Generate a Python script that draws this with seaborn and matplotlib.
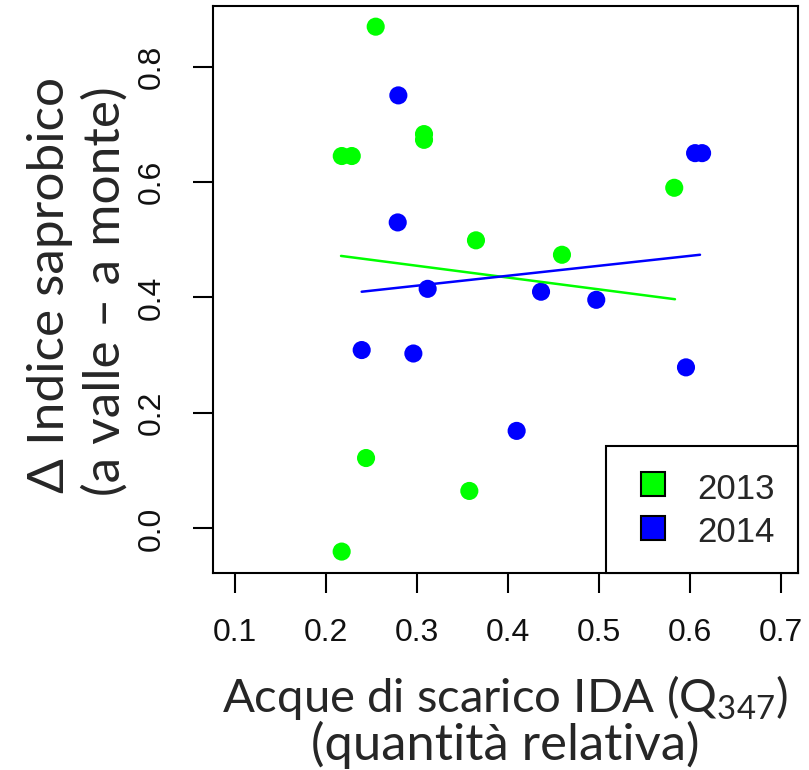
import numpy as np
import pandas as pd
import matplotlib.pyplot as plt
import seaborn as sns
from matplotlib.lines import Line2D

# valori (IDA relativo, delta indice saprobico)
ida_2013 = [0.2546, 0.2173, 0.2283, 0.3077, 0.3077, 0.3648, 0.4593, 0.5827, 0.2440, 0.2172, 0.3575]
delta_2013 = [0.869, 0.645, 0.645, 0.683, 0.673, 0.499, 0.474, 0.590, 0.122, -0.040, 0.065]
ida_2014 = [0.2795, 0.2788, 0.2392, 0.2960, 0.3117, 0.4363, 0.4970, 0.4095, 0.5956, 0.6056, 0.6133]
delta_2014 = [0.750, 0.530, 0.309, 0.303, 0.415, 0.410, 0.396, 0.169, 0.279, 0.650, 0.650]

# estremi delle rette di regressione
fit_x_2013 = [0.2165, 0.5835]
fit_y_2013 = [0.472, 0.397]
fit_x_2014 = [0.2392, 0.611]
fit_y_2014 = [0.410, 0.474]

years = ['2013', '2014']
colori = {'2013': '#00ff00', '2014': '#0000ff'}
x_ticks = [0.1, 0.2, 0.3, 0.4, 0.5, 0.6, 0.7]
y_ticks = [0.0, 0.2, 0.4, 0.6, 0.8]

df = pd.DataFrame({
    'ida': ida_2013 + ida_2014,
    'delta': delta_2013 + delta_2014,
    'anno': ['2013'] * len(ida_2013) + ['2014'] * len(ida_2014),
})
fit = pd.DataFrame({
    'x': fit_x_2013 + fit_x_2014,
    'y': fit_y_2013 + fit_y_2014,
    'anno': ['2013'] * 2 + ['2014'] * 2,
})

sns.set_style('white')
plt.rcParams['font.family'] = ['Liberation Sans', 'DejaVu Sans']

W, H = 809, 770
fig = plt.figure(figsize=(W / 100, H / 100), dpi=100)
ax = fig.add_axes([213 / W, 1 - 573 / H, (798 - 213) / W, (573 - 6) / H])

sns.scatterplot(data=df, x='ida', y='delta', hue='anno', palette=colori,
                s=170, linewidth=0, legend=False, ax=ax, zorder=2)
sns.lineplot(data=fit, x='x', y='y', hue='anno', palette=colori,
             linewidth=1.8, legend=False, ax=ax, zorder=3)

ax.set_xlim(0.0758, 0.7187)
ax.set_ylim(-0.0771, 0.9048)
ax.set_xticks(x_ticks)
ax.set_xticklabels([f'{t:.1f}' for t in x_ticks])
ax.set_yticks(y_ticks)
ax.set_yticklabels([f'{t:.1f}' for t in y_ticks])
ax.tick_params(axis='both', direction='out', length=14.5, width=1.5, bottom=True, left=True,
               color='black', labelsize=23, labelcolor='#111111')
ax.tick_params(axis='x', pad=18)
ax.tick_params(axis='y', pad=19)
for lab in ax.get_yticklabels():
    lab.set_rotation(90)
    lab.set_va('center')
ax.set_xlabel('')
ax.set_ylabel('')
for sp in ax.spines.values():
    sp.set_visible(True)
    sp.set_color('black')
    sp.set_linewidth(1.5)

handles = [Line2D([], [], marker='s', linestyle='none', markersize=17,
                  markerfacecolor=colori[y], markeredgecolor='black', markeredgewidth=1.5, label=y)
           for y in years]
leg = ax.legend(handles=handles, loc='lower right', bbox_to_anchor=(1, 0),
                borderaxespad=0, borderpad=0.68, handlelength=1.35, handleheight=1.2,
                handletextpad=0.6, labelspacing=0.2, fontsize=25,
                frameon=True, fancybox=False, framealpha=1, edgecolor='black')
leg.get_frame().set_linewidth(1.5)

lab_font = ['Lato', 'DejaVu Sans']
fig.text(50 / W, 1 - 285 / H, 'Δ Indice saprobico', rotation=90, ha='center', va='center',
         fontsize=37, family=lab_font)
fig.text(105 / W, 1 - 291 / H, '(a valle – a monte)', rotation=90, ha='center', va='center',
         fontsize=37, family=lab_font)
fig.text(505 / W, 1 - 697 / H, r'Acque di scarico IDA ($\mathregular{Q_{347}}$)', ha='center', va='center',
         fontsize=34, family=lab_font)
fig.text(505 / W, 1 - 745 / H, '(quantità relativa)', ha='center', va='center',
         fontsize=36.5, family=lab_font)

fig.savefig('out.png', dpi=100)
